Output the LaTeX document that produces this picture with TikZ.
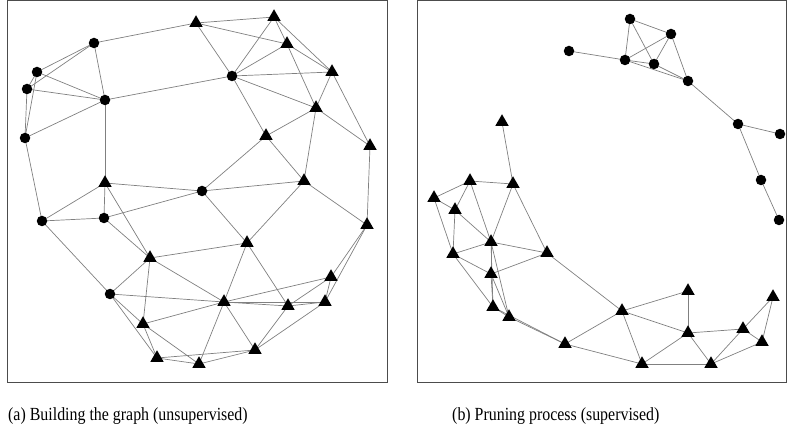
\documentclass[tikz,border=0pt]{standalone}
\usepackage{fontspec}
\setmainfont{Liberation Serif}
\newfontfamily\capfont[FakeStretch=0.86]{Liberation Serif}
\usetikzlibrary{shapes.geometric}
\pgfdeclarelayer{bg}
\pgfsetlayers{bg,main}
\begin{document}
\begin{tikzpicture}[x=1pt,y=-1pt,
  cn/.style={circle,fill=black,inner sep=0pt,minimum size=10.5pt},
  tn/.style={regular polygon,regular polygon sides=3,fill=black,inner sep=0pt,minimum size=15.5pt},
  edge/.style={draw=black!50,line width=0.7pt},
  frame/.style={draw=black!70,line width=1pt},
  captext/.style={anchor=west,inner sep=0pt,font=\capfont\fontsize{18.5}{22}\selectfont}]
\useasboundingbox (0,0) rectangle (787,438);
\draw[frame] (7,1) rectangle (387,382);
\draw[frame] (417,1) rectangle (786,382);
% left panel nodes
\foreach \n/\x/\y in {C1/94/43,C2/37/72,C3/27/89,C4/105/100,C5/25/138,C6/232/76,C7/202/191,C8/42/221,C9/104/218,C10/110/294}
  \node[cn] (\n) at (\x,\y) {};
\foreach \n/\x/\y in {T1/196/23,T2/274/17,T3/287/44,T4/332/72,T5/316/108,T6/266/136,T7/370/146,T8/304/181,T9/105/183,T10/150/258,T11/143/324,T12/157/358,T13/199/364,T14/367/225,T15/247/243,T16/331/277,T17/224/302,T18/288/306,T19/325/302,T20/255/350}
  \node[tn] (\n) at (\x,\y) {};
% right panel nodes
\foreach \n/\x/\y in {R1/630/19,R2/671/34,R3/569/51,R4/625/60,R5/654/64,R6/688/81,R7/738/124,R8/780/134,R9/761/180,R10/779/220}
  \node[cn] (\n) at (\x,\y) {};
\foreach \n/\x/\y in {RT1/502/122,RT2/470/181,RT3/513/184,RT4/434/198,RT5/455/210,RT6/491/242,RT7/453/254,RT8/547/253,RT9/491/274,RT10/493/307,RT11/509/317,RT12/565/344,RT13/622/311,RT14/688/291,RT15/688/333,RT16/773/297,RT17/743/329,RT18/762/342,RT19/642/364,RT20/711/364}
  \node[tn] (\n) at (\x,\y) {};
\begin{pgfonlayer}{bg}
\foreach \a/\b in {C1/T1,C1/C2,C1/C3,C1/C4,C2/C4,C3/C4,C2/C3,C2/C5,C3/C5,C5/C4,C4/C6,C4/T9,C5/C8,
  T9/C7,T9/C8,T9/C9,T9/T10,C8/C9,C8/C10,C9/T10,C9/C7,
  T1/T2,T1/T3,T1/C6,T2/C6,T2/T3,T2/T4,C6/T3,C6/T4,T3/T4,C6/T5,C6/T6,T3/T5,T4/T5,T4/T7,T5/T6,T5/T7,T5/T8,T6/T8,T6/C7,T8/C7,T8/T14,T7/T14,T8/T15,C7/T15,
  T10/C10,T10/T11,T10/T15,T10/T17,C10/T17,C10/T11,C10/T12,T11/T12,T11/T17,T11/T13,T12/T13,T12/T20,
  T15/T17,T15/T18,T17/T18,T17/T19,T17/T16,T17/T20,T17/T13,T18/T16,T18/T19,T18/T20,T16/T19,T16/T14,T19/T14,T19/T20,T20/T13}
  \draw[edge] (\a.center) -- (\b.center);
\foreach \a/\b in {R1/R2,R1/R4,R1/R5,R2/R4,R2/R5,R2/R6,R3/R4,R4/R5,R4/R6,R5/R6,R6/R7,R7/R8,R7/R9,R9/R10,
  RT1/RT3,RT2/RT3,RT2/RT4,RT2/RT5,RT2/RT6,RT3/RT6,RT3/RT8,RT4/RT5,RT4/RT7,RT5/RT7,RT5/RT6,RT7/RT6,RT7/RT9,RT7/RT10,RT6/RT8,RT6/RT9,RT6/RT10,RT6/RT11,RT9/RT8,RT9/RT10,RT9/RT11,RT10/RT11,RT11/RT12,RT10/RT12,RT8/RT13,RT12/RT13,RT12/RT19,RT13/RT14,RT13/RT15,RT13/RT19,RT14/RT15,RT15/RT17,RT15/RT19,RT15/RT20,RT19/RT20,RT20/RT17,RT20/RT18,RT17/RT16,RT17/RT18,RT18/RT16}
  \draw[edge] (\a.center) -- (\b.center);
\end{pgfonlayer}
\node[captext] (capa) at (8,416) {(a) Building the graph (unsupervised)};
\node[captext] (capb) at (452,416) {(b) Pruning process (supervised)};
\end{tikzpicture}
\end{document}
